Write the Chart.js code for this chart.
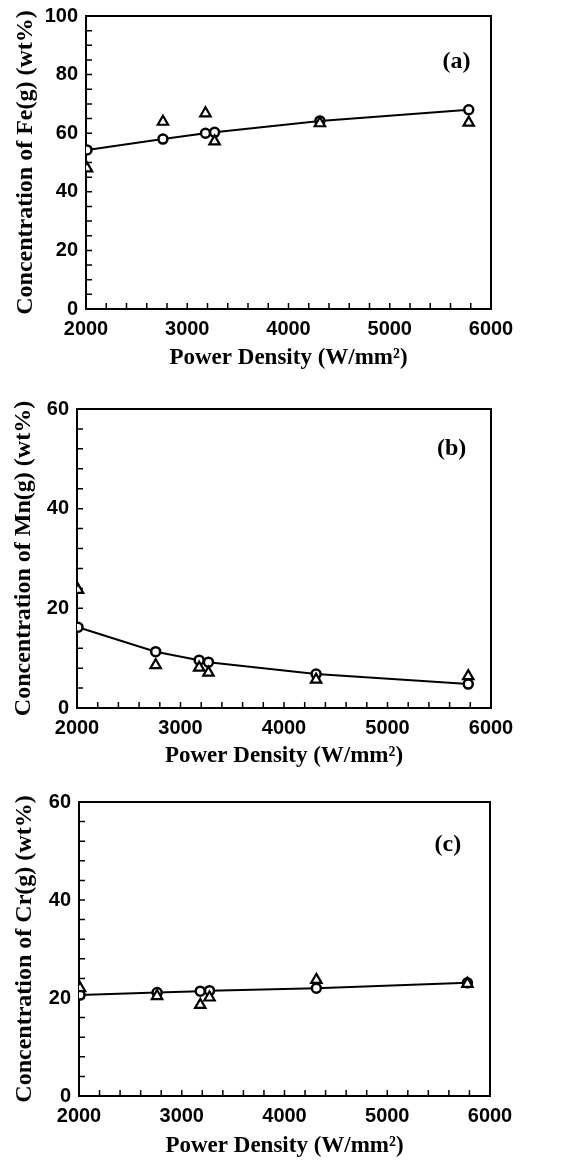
<!DOCTYPE html>
<html>
<head>
<meta charset="utf-8">
<script src="https://cdn.jsdelivr.net/npm/chart.js@4.4.1/dist/chart.umd.min.js"></script>
<style>
  body { margin: 0; background: #fff; overflow: hidden; }
  canvas { position: absolute; left: 0; }
</style>
</head>
<body>
<canvas id="chartFe" width="566" height="384" style="top:-4px"></canvas>
<canvas id="chartMn" width="566" height="390" style="top:380px"></canvas>
<canvas id="chartCr" width="566" height="393" style="top:770px"></canvas>
<script>
// power density (W/mm2) of the six runs
const powerDensity = [2010, 2760, 3180, 3270, 4310, 5780];

// calculated (circles + line) and measured (triangles) vapour concentrations, wt%
const feCalc = [54.3, 58.0, 60.0, 60.3, 64.2, 68.0];
const feExp  = [48.0, 63.9, 66.8, 57.2, 63.4, 63.6];
const mnCalc = [16.2, 11.3, 9.6, 9.2, 6.8, 4.8];
const mnExp  = [23.7, 8.6, 8.1, 7.1, 5.7, 6.4];
const crCalc = [20.6, 21.1, 21.4, 21.5, 22.0, 23.1];
const crExp  = [22.0, 20.4, 18.6, 20.1, 23.7, 22.9];

const xTitle = 'Power Density (W/mm\u00b2)';

const framePlugin = {
  id: 'frame',
  beforeDatasetsDraw(chart, args, opts) {
    const { ctx, chartArea: a, scales: { x, y } } = chart;
    ctx.save();
    ctx.strokeStyle = '#000';
    ctx.lineWidth = 2;
    ctx.strokeRect(a.left, a.top, a.right - a.left, a.bottom - a.top);
    ctx.lineWidth = 1.5;
    ctx.beginPath();
    for (let v = x.min; v <= x.max; v += opts.xMinor) {
      const px = x.getPixelForValue(v);
      ctx.moveTo(px, a.bottom);
      ctx.lineTo(px, a.bottom - 6);
    }
    for (let v = y.min; v <= y.max; v += opts.yMinor) {
      const py = y.getPixelForValue(v);
      ctx.moveTo(a.left, py);
      ctx.lineTo(a.left + 6, py);
    }
    ctx.stroke();
    ctx.restore();
  },
  afterDraw(chart, args, opts) {
    const { ctx, scales: { x, y } } = chart;
    ctx.save();
    ctx.font = 'bold 24px "Liberation Serif"';
    ctx.fillStyle = '#000';
    ctx.textAlign = 'center';
    ctx.textBaseline = 'middle';
    ctx.fillText(opts.label, x.getPixelForValue(opts.labelAt[0]), y.getPixelForValue(opts.labelAt[1]));
    ctx.restore();
  }
};

function makeChart(id, calc, exp, s) {
  const ctx = document.getElementById(id);
  return new Chart(ctx, {
    type: 'scatter',
    data: {
      datasets: [{
        data: powerDensity.map((p, i) => ({ x: p, y: exp[i] })),
        pointStyle: 'triangle',
        pointRadius: 6,
        backgroundColor: '#fff',
        borderColor: '#000',
        borderWidth: 2.2,
        showLine: false
      }, {
        data: powerDensity.map((p, i) => ({ x: p, y: calc[i] })),
        pointStyle: 'circle',
        pointRadius: 4.5,
        backgroundColor: '#fff',
        borderColor: '#000',
        pointBorderWidth: 2.5,
        borderWidth: 2,
        showLine: true,
        tension: 0
      }]
    },
    options: {
      responsive: false,
      animation: false,
      events: [],
      layout: { padding: { top: s.top, right: s.right, left: 0, bottom: 0 } },
      plugins: {
        legend: { display: false },
        tooltip: { enabled: false },
        frame: { xMinor: 200, yMinor: s.yMinor, label: s.label, labelAt: s.labelAt }
      },
      scales: {
        x: {
          type: 'linear',
          min: 2000, max: 6000,
          grid: { display: false, drawTicks: false },
          border: { display: false },
          ticks: { stepSize: 1000, padding: 8, color: '#000',
                   callback: v => String(v),
                   font: { family: '"Liberation Sans"', weight: 'bold', size: 20 } },
          title: { display: true, text: xTitle, color: '#000',
                   padding: { top: 0, bottom: s.xTitlePad },
                   font: { family: '"Liberation Serif"', weight: 'bold', size: 23 } },
          afterFit(scale) { scale.height = s.xHeight; }
        },
        y: {
          min: 0, max: s.yMax,
          grid: { display: false, drawTicks: false },
          border: { display: false },
          ticks: { stepSize: 20, padding: 8, color: '#000',
                   callback: v => String(v),
                   font: { family: '"Liberation Sans"', weight: 'bold', size: 20 } },
          title: { display: true, text: s.yTitle, color: '#000',
                   padding: { top: s.yTitlePad, bottom: 0 },
                   font: { family: '"Liberation Serif"', weight: 'bold', size: 24 } },
          afterFit(scale) { scale.width = s.yWidth; }
        }
      }
    },
    plugins: [framePlugin]
  });
}

makeChart('chartFe', feCalc, feExp, {
  top: 20, right: 75, yWidth: 86, xHeight: 71, xTitlePad: 8, yTitlePad: 11,
  yMax: 100, yMinor: 5, yTitle: 'Concentration of Fe(g) (wt%)',
  label: '(a)', labelAt: [5660, 84.3]
});
makeChart('chartMn', mnCalc, mnExp, {
  top: 29, right: 75, yWidth: 77, xHeight: 62, xTitlePad: 0, yTitlePad: 9,
  yMax: 60, yMinor: 4, yTitle: 'Concentration of Mn(g) (wt%)',
  label: '(b)', labelAt: [5620, 52.1]
});
makeChart('chartCr', crCalc, crExp, {
  top: 32, right: 76, yWidth: 79, xHeight: 67, xTitlePad: 3, yTitlePad: 10,
  yMax: 60, yMinor: 4, yTitle: 'Concentration of Cr(g) (wt%)',
  label: '(c)', labelAt: [5590, 51.2]
});
</script>
</body>
</html>
